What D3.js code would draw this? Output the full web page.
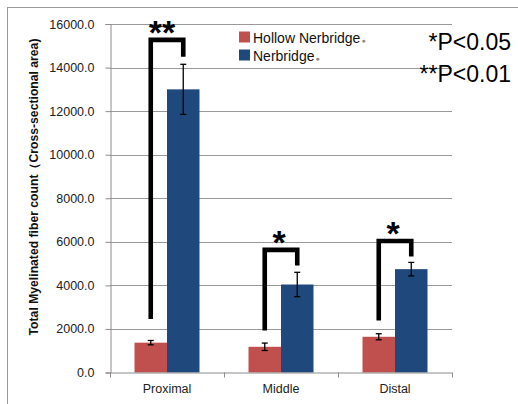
<!DOCTYPE html>
<html><head><meta charset="utf-8">
<script src="https://cdn.jsdelivr.net/npm/d3@7"></script>
<style>html,body{margin:0;padding:0;background:#fff;} svg{display:block;}</style>
</head><body>
<script>
const categories = ["Proximal", "Middle", "Distal"];
const series = ["Hollow Nerbridge", "Nerbridge"];
const hollowValues = [1370, 1180, 1640];
const hollowErrors = [100, 170, 140];
const nerbridgeValues = [13000, 4040, 4745];
const nerbridgeErrors = [1150, 560, 310];
const yTicks = [0, 2000, 4000, 6000, 8000, 10000, 12000, 14000, 16000];
const sigLabels = ["**", "*", "*"];
const bracketLeftBottom = [2460, 1930, 2390];
const bracketTop = [15270, 5630, 6040];
const bracketRightBottom = [14500, 4910, 5320];
const pLabels = ["*P<0.05", "**P<0.01"];
const colors = ["#C0504D", "#1F497D"];

const W = 518, H = 404;
const svg = d3.select("body").append("svg").attr("width", W).attr("height", H);
const font = "'Liberation Sans', Arial, sans-serif";

// outer border
svg.append("rect").attr("x", 7.5).attr("y", 7.5).attr("width", 530).attr("height", 420)
  .attr("fill", "none").attr("stroke", "#9a9a9a").attr("stroke-width", 1);

const x0 = d3.scaleBand().domain(categories).range([110, 452]).padding(0);
const x1 = d3.scaleBand().domain(series).range([0, x0.bandwidth()]).paddingInner(0).paddingOuter(0.754);
const y = d3.scaleLinear().domain([0, 16000]).range([372.5, 24]);

// gridlines
svg.append("g").selectAll("line").data(yTicks.filter(d => d > 0)).join("line")
  .attr("x1", 110).attr("x2", 452)
  .attr("y1", d => Math.round(y(d)) + 0.5).attr("y2", d => Math.round(y(d)) + 0.5)
  .attr("stroke", "#9a9a9a").attr("stroke-width", 1);

// y axis
const yAxis = svg.append("g").attr("transform", "translate(110.5,0)")
  .call(d3.axisLeft(y).tickValues(yTicks).tickFormat(d3.format(".1f")).tickSize(5).tickPadding(11));
yAxis.select(".domain").attr("stroke", "#8c8c8c");
yAxis.selectAll(".tick line").attr("stroke", "#8c8c8c");
yAxis.selectAll("text").attr("font-family", font).attr("font-size", 12.5).attr("fill", "#222");

// bars
const data = categories.map((c, i) => ({c, vals: [
  {s: series[0], v: hollowValues[i], e: hollowErrors[i]},
  {s: series[1], v: nerbridgeValues[i], e: nerbridgeErrors[i]}]}));

const groups = svg.append("g").selectAll("g").data(data).join("g")
  .attr("transform", d => `translate(${x0(d.c)},0)`);
groups.selectAll("rect").data(d => d.vals).join("rect")
  .attr("x", d => x1(d.s)).attr("width", x1.bandwidth())
  .attr("y", d => y(d.v)).attr("height", d => y(0) - y(d.v))
  .attr("fill", (d, i) => colors[i]);

// error bars
const eb = groups.selectAll("g.err").data(d => d.vals).join("g").attr("class", "err");
eb.append("line")
  .attr("x1", d => x1(d.s) + x1.bandwidth() / 2).attr("x2", d => x1(d.s) + x1.bandwidth() / 2)
  .attr("y1", d => y(d.v + d.e)).attr("y2", d => y(d.v - d.e));
eb.append("line")
  .attr("x1", d => x1(d.s) + x1.bandwidth() / 2 - 3).attr("x2", d => x1(d.s) + x1.bandwidth() / 2 + 3)
  .attr("y1", d => y(d.v + d.e)).attr("y2", d => y(d.v + d.e));
eb.append("line")
  .attr("x1", d => x1(d.s) + x1.bandwidth() / 2 - 3).attr("x2", d => x1(d.s) + x1.bandwidth() / 2 + 3)
  .attr("y1", d => y(d.v - d.e)).attr("y2", d => y(d.v - d.e));
eb.selectAll("line").attr("stroke", "#000").attr("stroke-width", 1.3);

// x axis
svg.append("line").attr("x1", 110).attr("x2", 452).attr("y1", y(0) + 0.5).attr("y2", y(0) + 0.5)
  .attr("stroke", "#8c8c8c");
const bounds = categories.map(c => x0(c)).concat([x0(categories[categories.length - 1]) + x0.bandwidth()]);
svg.append("g").selectAll("line").data(bounds).join("line")
  .attr("x1", d => d + 0.5).attr("x2", d => d + 0.5).attr("y1", y(0)).attr("y2", y(0) + 5)
  .attr("stroke", "#8c8c8c");
const xAxis = svg.append("g").attr("transform", `translate(0,${y(0)})`)
  .call(d3.axisBottom(x0).tickSize(0).tickPadding(12));
xAxis.select(".domain").remove();
xAxis.selectAll("text").attr("font-family", font).attr("font-size", 12.5).attr("fill", "#222");

// significance brackets
const bw = x1.bandwidth();
categories.forEach((c, i) => {
  const xl = x0(c) + x1(series[0]) + bw / 2;
  const xr = x0(c) + x1(series[1]) + bw / 2;
  const path = d3.path();
  path.moveTo(xl, y(bracketLeftBottom[i]));
  path.lineTo(xl, y(bracketTop[i]));
  path.lineTo(xr, y(bracketTop[i]));
  path.lineTo(xr, y(bracketRightBottom[i]));
  svg.append("path").attr("d", path.toString()).attr("fill", "none")
    .attr("stroke", "#000").attr("stroke-width", 4.6).attr("stroke-linejoin", "miter").attr("stroke-linecap", "butt");
  svg.append("text").attr("x", (xl + xr) / 2 - (sigLabels[i].length > 1 ? 5 : 2)).attr("y", y(bracketTop[i]) + 4)
    .attr("text-anchor", "middle").attr("font-family", font).attr("font-weight", "bold")
    .attr("font-size", 34).text(sigLabels[i]);
});

// legend
const leg = svg.append("g");
series.forEach((s, i) => {
  leg.append("rect").attr("x", 239).attr("y", 31.5 + i * 18).attr("width", 11).attr("height", 11).attr("fill", colors[i]);
  const t = leg.append("text").attr("x", 253).attr("y", 42.5 + i * 18)
    .attr("font-family", font).attr("font-size", 14).attr("fill", "#111");
  t.append("tspan").text(s);
  t.append("tspan").attr("font-size", 7).attr("fill", "#888").attr("dx", 1).text("●");
});

// p-value notes
pLabels.forEach((p, i) => {
  svg.append("text").attr("x", 511).attr("y", 49.5 + i * 32).attr("text-anchor", "end")
    .attr("font-family", font).attr("font-size", 23).attr("fill", "#000").text(p);
});

// y axis title
svg.append("text").attr("transform", "translate(38,187) rotate(-90)")
  .attr("text-anchor", "middle").attr("font-family", font).attr("font-weight", "bold")
  .attr("font-size", 12.2).attr("fill", "#111").text("Total Myelinated fiber count（Cross-sectional area)");
</script>
</body></html>
